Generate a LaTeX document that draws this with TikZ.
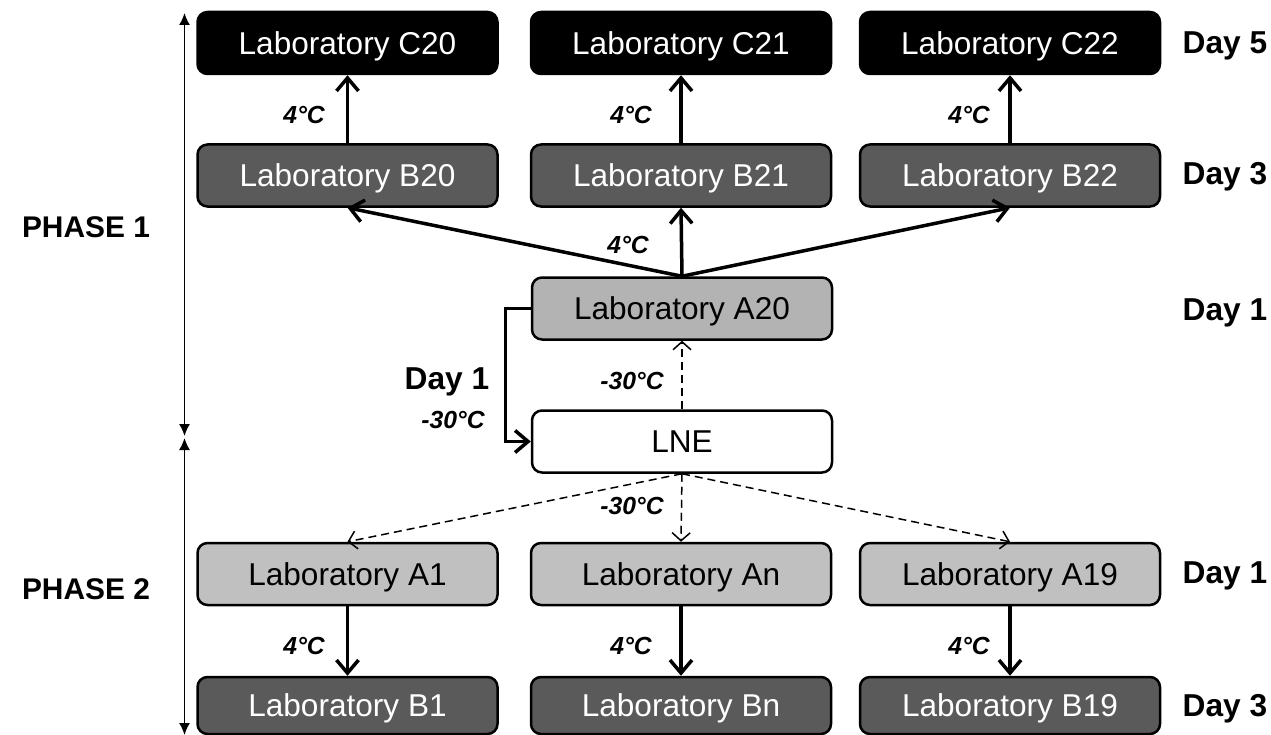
\documentclass[tikz,border=0pt]{standalone}
\usepackage{fontspec}
\setmainfont{Liberation Sans}
\usetikzlibrary{arrows.meta}
\definecolor{cgray}{HTML}{5A5A5A}
\definecolor{agray}{HTML}{B3B3B3}
\definecolor{lgray}{HTML}{C0C0C0}
\tikzset{
  lab/.style={draw=black, line width=2.5bp, rounded corners=10bp, minimum width=300bp,
    minimum height=62bp, inner sep=0pt, text height=22.7bp, text depth=0pt,
    font=\fontsize{31.7}{36}\selectfont},
  cbox/.style={lab, fill=black, text=white},
  bbox/.style={lab, fill=cgray, text=white},
  abox/.style={lab, fill=agray, text=black},
  a1box/.style={lab, fill=lgray, text=black},
  lnebox/.style={lab, fill=white, text=black},
  solidarr/.style={line width=3.5bp, -{Straight Barb[length=13bp,width=22bp,line width=3.5bp]}},
  dasharr/.style={line width=1.5bp, dash pattern=on 8bp off 5bp, -{Straight Barb[length=8bp,width=18bp,line width=1.5bp]}},
  temp/.style={font=\fontsize{24.8}{28}\selectfont\bfseries\itshape, inner sep=0pt, anchor=base},
  daylab/.style={font=\fontsize{31.8}{36}\selectfont\bfseries, inner sep=0pt, anchor=base},
  phaselab/.style={font=\fontsize{30}{34}\selectfont\bfseries, inner sep=0pt, anchor=base},
  phasearr/.style={line width=1.5bp, {Latex[length=12bp,width=11bp]}-{Latex[length=12bp,width=11bp]}}
}
\begin{document}
\begin{tikzpicture}[x=1bp,y=-1bp]
\useasboundingbox (0,0) rectangle (1271,735);
% boxes
\node[cbox] (C20) at (347.5,43) {Laboratory C20};
\node[cbox] (C21) at (681,43) {Laboratory C21};
\node[cbox] (C22) at (1010,43) {Laboratory C22};
\node[bbox] (B20) at (347.5,175.5) {Laboratory B20};
\node[bbox] (B21) at (681,175.5) {Laboratory B21};
\node[bbox] (B22) at (1010,175.5) {Laboratory B22};
\node[abox] (A20) at (682,308.5) {Laboratory A20};
\node[lnebox] (LNE) at (682,441.5) {LNE};
\node[a1box] (A1) at (347.5,574) {Laboratory A1};
\node[a1box] (An) at (681,574) {Laboratory An};
\node[a1box] (A19) at (1010,574) {Laboratory A19};
\node[bbox, minimum height=57bp] (B1) at (347.5,705.5) {Laboratory B1};
\node[bbox, minimum height=57bp] (Bn) at (681,705.5) {Laboratory Bn};
\node[bbox, minimum height=57bp] (B19) at (1010,705.5) {Laboratory B19};
% solid arrows
\draw[solidarr] (B20.north) -- (C20.south);
\draw[solidarr] (B21.north) -- (C21.south);
\draw[solidarr] (B22.north) -- (C22.south);
\draw[solidarr] (A20.north) -- (B20.south);
\draw[solidarr] (A20.north) -- (B21.south);
\draw[solidarr] (A20.north) -- (B22.south);
\draw[solidarr] (A1.south) -- (B1.north);
\draw[solidarr] (An.south) -- (Bn.north);
\draw[solidarr] (A19.south) -- (B19.north);
\draw[solidarr, line width=3bp] (A20.west) -- ++(-25,0) |- (LNE.west);
% dashed arrows
\draw[dasharr] (LNE.north) -- (A20.south);
\draw[dasharr] (LNE.south) -- (A1.north);
\draw[dasharr] (LNE.south) -- (An.north);
\draw[dasharr] (LNE.south) -- (A19.north);
% temperature labels
\node[temp] (t1) at (304,123.5) {4°C};
\node[temp] (t2) at (631,123.5) {4°C};
\node[temp] (t3) at (969,123.5) {4°C};
\node[temp] (t4) at (628,254) {4°C};
\node[temp] (t5) at (632,389) {-30°C};
\node[temp] (t6) at (453,428) {-30°C};
\node[temp] (t7) at (632,514) {-30°C};
\node[temp] (t8) at (304,654) {4°C};
\node[temp] (t9) at (631,654) {4°C};
\node[temp] (t10) at (969,654) {4°C};
% day labels
\node[daylab] (d0) at (447,389) {Day 1};
\node[daylab] (d1) at (1225,54) {Day 5};
\node[daylab] (d2) at (1225,185) {Day 3};
\node[daylab] (d3) at (1225,320) {Day 1};
\node[daylab] (d4) at (1225,583) {Day 1};
\node[daylab] (d5) at (1225,716) {Day 3};
% phases
\node[phaselab] (p1) at (86,238) {PHASE 1};
\node[phaselab] (p2) at (86,599) {PHASE 2};
\coordinate (p1top) at (184.5,13);
\coordinate (p1bot) at (184.5,436);
\coordinate (p2top) at (184.5,438);
\coordinate (p2bot) at (184.5,735);
\draw[phasearr] (p1top) -- (p1bot);
\draw[phasearr] (p2top) -- (p2bot);
\end{tikzpicture}
\end{document}
